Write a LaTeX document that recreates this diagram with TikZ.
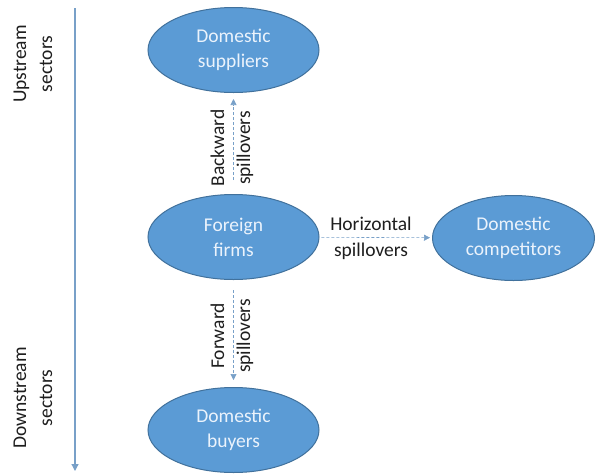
\documentclass[tikz,border=0pt]{standalone}
\usepackage{fontspec}
\setmainfont{Carlito}
\usepackage{xcolor}
\usetikzlibrary{arrows.meta}
\usetikzlibrary{positioning}
\usetikzlibrary{shapes.geometric}
\definecolor{fillblue}{RGB}{91,155,213}
\definecolor{lineblue}{RGB}{65,113,156}
\definecolor{axisblue}{RGB}{120,160,200}
\definecolor{txtwhite}{RGB}{235,243,252}
\definecolor{txtdark}{RGB}{30,30,30}

\begin{document}
\begin{tikzpicture}[x=1pt, y=-1pt,
    sector/.style={ellipse, draw=lineblue, line width=1pt, fill=fillblue,
        minimum width=171pt, minimum height=85pt, inner sep=0pt,
        align=center, text=txtwhite, font=\fontsize{19.5}{25}\selectfont},
    lbl/.style={align=center, text=txtdark, inner sep=0pt,
        font=\fontsize{19.5}{26}\selectfont},
    spill/.style={densely dashed, draw=axisblue, line width=0.6pt,
        -{Triangle[length=6pt, width=6pt]}}]
    \useasboundingbox (0,0) rectangle (595,475);

    % Axis: upstream to downstream
    \coordinate (top) at (75,8);
    \coordinate (bottom) at (75,471);
    \draw[axisblue, line width=1.2pt, -{Triangle[length=7pt, width=7pt]}] (top) -- (bottom);
    \node[lbl, rotate=90] (up) at (33,64) {Upstream\\sectors};
    \node[lbl, rotate=90] (down) at (33,398) {Downstream\\sectors};

    % Firms
    \node[sector] (supp) at (233.5,50) {Domestic\\suppliers};
    \node[sector] (foreign) at (233.5,237) {Foreign\\firms};
    \node[sector] (buyers) at (233.5,430) {Domestic\\buyers};
    \node[sector, minimum width=162pt] (comp) at (513.5,238) {Domestic\\competitors};

    % Spillovers
    \draw[spill, shorten <=14pt, shorten >=6pt] (foreign) -- (supp);
    \draw[spill, shorten <=10pt, shorten >=7pt] (foreign) -- (buyers);
    \draw[spill, shorten <=2pt, shorten >=2pt] (foreign) -- (comp);
    \node[lbl, rotate=90] (back) at (232,148) {Backward\\spillovers};
    \node[lbl, rotate=90] (fwd) at (232,336) {Forward\\spillovers};
    \node[lbl] (horiz) at (371,238) {Horizontal\\spillovers};
\end{tikzpicture}
\end{document}
